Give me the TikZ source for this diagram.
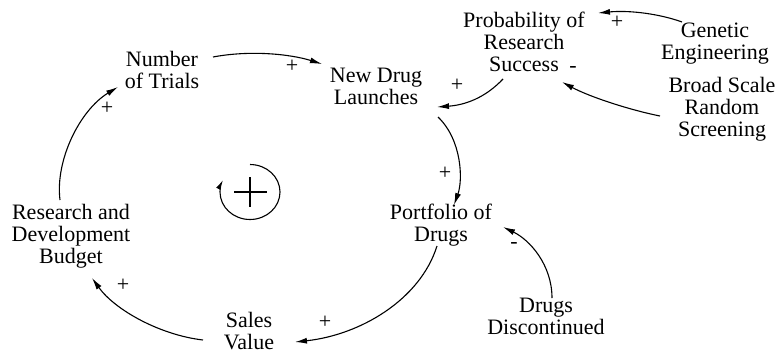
\documentclass[tikz,border=0pt]{standalone}
\usepackage{fontspec}
\setmainfont{Liberation Serif}
\usetikzlibrary{arrows.meta}
\begin{document}
\begin{tikzpicture}[x=1pt,y=-1pt,
  var/.style={align=center,inner sep=0pt,font=\fontsize{22}{22}\selectfont},
  sgn/.style={inner sep=0pt,font=\fontsize{22}{22}\selectfont},
  link/.style={line width=1.1pt,-{Latex[length=12pt,width=6pt]}}]
\useasboundingbox (0,0) rectangle (779,354);
% variables
\node[var] (nt) at (162,69.5) {Number\\of Trials};
\node[var] (nd) at (376,86.5) {New Drug\\Launches};
\node[var] (pr) at (524,41.5) {Probability of\\Research\\Success};
\node[var] (ge) at (715,44) {Genetic\\Engineering};
\node[var] (bs) at (722,109) {Broad Scale\\Random\\Screening};
\node[var] (pf) at (441,225) {Portfolio of\\Drugs};
\node[var] (dd) at (546,316.5) {Drugs\\Discontinued};
\node[var] (sv) at (249,331) {Sales\\Value};
\node[var] (rd) at (71,236.4) {Research and\\Development\\Budget};
% links
\draw[link] ([shift={(51,-12.5)}]nt.center) .. controls (250,50) and (290,54) .. ([shift={(-54,-22.5)}]nd.center);
\draw[link] ([shift={(62,30.5)}]nd.center) .. controls (462,140) and (463,180) .. ([shift={(13,-20)}]pf.center);
\draw[link] ([shift={(-21,37.5)}]pr.center) .. controls (485,98) and (465,105) .. ([shift={(61,20.5)}]nd.center);
\draw[link] ([shift={(-33,-22)}]ge.center) .. controls (660,14) and (630,10) .. ([shift={(74,-28.5)}]pr.center);
\draw[link] ([shift={(-62,7)}]bs.center) .. controls (630,110) and (590,97) .. ([shift={(38,40.5)}]pr.center);
\draw[link] ([shift={(-4,21)}]pf.center) .. controls (420,300) and (360,335) .. ([shift={(46,11)}]sv.center);
\draw[link] ([shift={(-46,9)}]sv.center) .. controls (160,335) and (115,310) .. ([shift={(21,41.6)}]rd.center);
\draw[link] ([shift={(-11,-36.4)}]rd.center) .. controls (55,160) and (80,110) .. ([shift={(-44,17.5)}]nt.center);
\draw[link] ([shift={(6,-18.5)}]dd.center) .. controls (552,265) and (530,240) .. ([shift={(62,2)}]pf.center);
% polarities
\node[sgn] (p1) at (292,66) {+};
\node[sgn] (p2) at (445,173) {+};
\node[sgn] (p3) at (457,85) {+};
\node[sgn] (p4) at (617,22) {+};
\node[sgn] (p5) at (325,322) {+};
\node[sgn] (p6) at (123,285) {+};
\node[sgn] (p7) at (107,108) {+};
\node[sgn] (m1) at (573,69) {-};
\node[sgn] (m2) at (514,245) {-};
% loop symbol
\draw[line width=1.1pt,-{Latex[length=10pt,width=5pt]}] (250,164.5) arc[start angle=-90,end angle=206,x radius=30,y radius=27.5];
\draw[line width=2pt] (234,192) -- (267,192);
\draw[line width=2pt] (250,177) -- (250,207);
\end{tikzpicture}
\end{document}
